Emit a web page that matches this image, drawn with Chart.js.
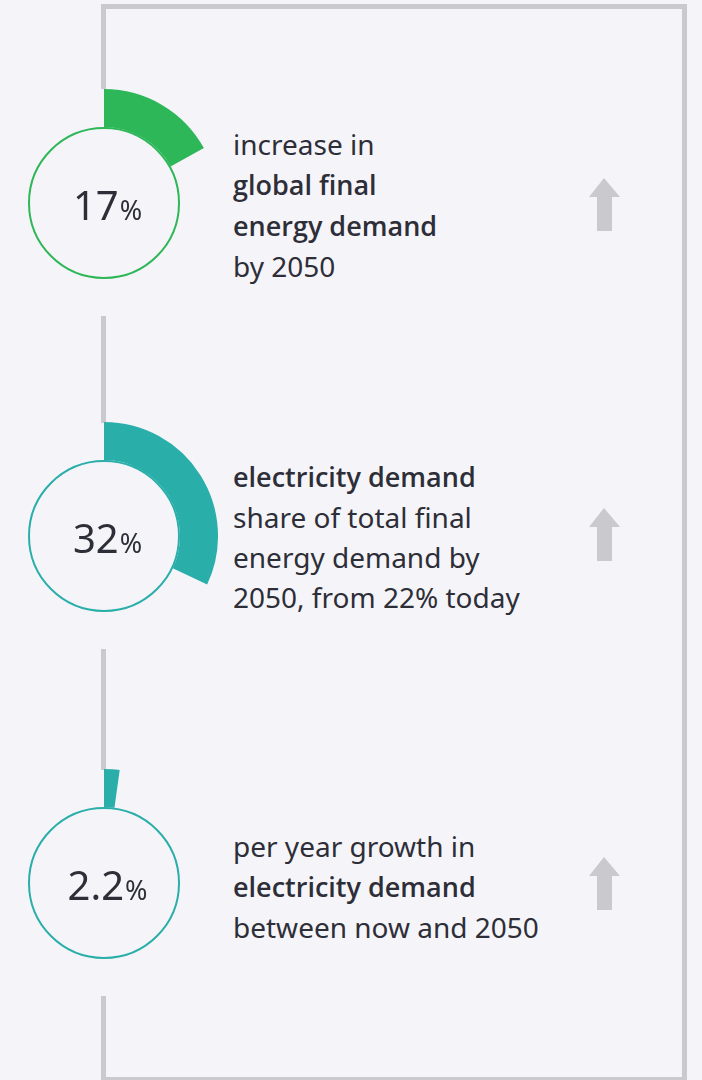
<!DOCTYPE html>
<html>
<head>
<meta charset="utf-8">
<script src="https://cdn.jsdelivr.net/npm/chart.js@4"></script>
<style>
    html, body { margin: 0; padding: 0; }
    body {
        width: 702px; height: 1080px; position: relative; overflow: hidden;
        background: #f5f5f9; font-family: "Noto Sans", sans-serif; color: #2e2e38;
    }
    .line { position: absolute; background: #c9c9ce; }
    .ring { position: absolute; }
    .txt { position: absolute; left: 233px; font-size: 28px; line-height: 40px; white-space: nowrap; }
    .txt b { font-family: "Open Sans", "Noto Sans", sans-serif; font-weight: 600; font-size: 27px; }
    svg { position: absolute; left: 0; top: 0; }
</style>
</head>
<body>
<div class="line" style="left:101px;top:4px;width:586px;height:5px"></div>
<div class="line" style="left:682px;top:4px;width:5px;height:1076px"></div>
<div class="line" style="left:101px;top:1077px;width:586px;height:3px"></div>
<div class="line" style="left:101px;top:4px;width:5px;height:85px"></div>
<div class="line" style="left:101px;top:316px;width:5px;height:107px"></div>
<div class="line" style="left:101px;top:649px;width:5px;height:121px"></div>
<div class="line" style="left:101px;top:996px;width:5px;height:84px"></div>

<svg width="702" height="1080">
    <g fill="#c9c9ce">
        <polygon points="604,178 620,197 612,197 612,231 597,231 597,197 589,197"/>
        <polygon points="604,508 620,527 612,527 612,561 597,561 597,527 589,527"/>
        <polygon points="604,857 620,876 612,876 612,910 597,910 597,876 589,876"/>
    </g>
</svg>

<canvas id="ring0" class="ring" width="228" height="228" style="left:-10px;top:89px"></canvas>
<canvas id="ring1" class="ring" width="228" height="228" style="left:-10px;top:422px"></canvas>
<canvas id="ring2" class="ring" width="228" height="228" style="left:-10px;top:769px"></canvas>

<div class="txt" style="top:124px">increase in<br><b>global final</b><br><b>energy demand</b><br>by 2050</div>
<div class="txt" style="top:456px"><b>electricity demand</b><br>share of total final<br>energy demand by<br>2050, from 22% today</div>
<div class="txt" style="top:826px">per year growth in<br><b>electricity demand</b><br>between now and 2050</div>

<script>
const values = [17, 32, 2.2];
const labels = ['17', '32', '2.2'];
const colors = ['#2eb758', '#2aaeaa', '#2aaeaa'];

// outline circle and the number in the middle
const centerPlugin = {
    id: 'centerCircle',
    afterDatasetsDraw(chart, args, opts) {
        const arc = chart.getDatasetMeta(0).data[0];
        const ctx = chart.ctx;
        ctx.save();
        ctx.beginPath();
        ctx.arc(arc.x, arc.y, arc.innerRadius - 1, 0, Math.PI * 2);
        ctx.lineWidth = 2;
        ctx.strokeStyle = opts.color;
        ctx.stroke();

        ctx.fillStyle = '#2e2e38';
        ctx.textBaseline = 'alphabetic';
        const big = '40px "Noto Sans"', small = '27px "Noto Sans"';
        ctx.font = big;
        const w1 = ctx.measureText(opts.label).width;
        ctx.font = small;
        const w2 = ctx.measureText('%').width;
        const x0 = arc.x + 3 - (w1 + w2) / 2;
        const y0 = arc.y + 17;
        ctx.font = big;
        ctx.fillText(opts.label, x0, y0);
        ctx.font = small;
        ctx.fillText('%', x0 + w1 + 1, y0);
        ctx.restore();
    }
};

values.forEach((v, i) => {
    new Chart(document.getElementById('ring' + i), {
        type: 'doughnut',
        data: {
            labels: ['value', 'rest'],
            datasets: [{
                data: [v, 100 - v],
                backgroundColor: [colors[i], 'rgba(0,0,0,0)'],
                borderWidth: 0,
                hoverOffset: 0,
            }]
        },
        options: {
            responsive: false,
            animation: false,
            cutout: 76,
            layout: { padding: 0 },
            events: [],
            plugins: {
                legend: { display: false },
                tooltip: { enabled: false },
                centerCircle: { color: colors[i], label: labels[i] },
            }
        },
        plugins: [centerPlugin]
    });
});
</script>
</body>
</html>
